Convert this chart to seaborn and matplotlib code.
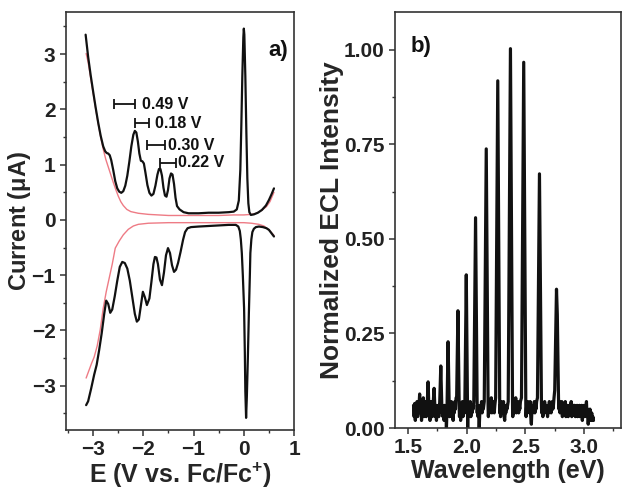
import numpy as np
import pandas as pd
import matplotlib
matplotlib.use("Agg")
import matplotlib.pyplot as plt
from matplotlib.ticker import MultipleLocator, FormatStrFormatter
import seaborn as sns

# ---------------- data: cyclic voltammogram (panel a) ----------------
cv_black_fwd = [
    (-3.15, 3.35), (-3.10, 2.95), (-3.05, 2.62), (-3.00, 2.32), (-2.95, 2.03),
    (-2.90, 1.76), (-2.85, 1.52), (-2.80, 1.33), (-2.76, 1.24), (-2.73, 1.21),
    (-2.70, 1.20), (-2.67, 1.17), (-2.64, 1.08), (-2.60, 0.90), (-2.56, 0.70),
    (-2.52, 0.57), (-2.48, 0.51), (-2.44, 0.49), (-2.40, 0.52), (-2.36, 0.62),
    (-2.32, 0.80), (-2.28, 1.05), (-2.24, 1.33), (-2.20, 1.54), (-2.17, 1.61),
    (-2.14, 1.58), (-2.11, 1.42), (-2.08, 1.20), (-2.05, 1.07), (-2.02, 1.06),
    (-1.99, 1.02), (-1.96, 0.86), (-1.92, 0.63), (-1.88, 0.49), (-1.84, 0.44),
    (-1.80, 0.47), (-1.76, 0.62), (-1.72, 0.82), (-1.69, 0.92), (-1.66, 0.92),
    (-1.63, 0.80), (-1.60, 0.58), (-1.57, 0.44), (-1.54, 0.42), (-1.51, 0.54),
    (-1.48, 0.75), (-1.45, 0.84), (-1.42, 0.82), (-1.39, 0.65), (-1.36, 0.40),
    (-1.33, 0.25), (-1.28, 0.19), (-1.20, 0.14), (-1.10, 0.12), (-0.90, 0.12),
    (-0.70, 0.13), (-0.50, 0.13), (-0.30, 0.14), (-0.20, 0.15), (-0.14, 0.19),
    (-0.10, 0.35), (-0.07, 0.90), (-0.05, 1.70), (-0.03, 2.60), (-0.01, 3.30),
    (0.00, 3.46), (0.01, 3.35), (0.03, 2.60), (0.05, 1.60), (0.07, 0.75),
    (0.09, 0.30), (0.11, 0.14), (0.14, 0.09), (0.20, 0.10), (0.28, 0.13),
    (0.36, 0.18), (0.44, 0.26), (0.50, 0.36), (0.55, 0.46), (0.60, 0.57),
]
cv_black_rev = [
    (0.60, -0.30), (0.55, -0.24), (0.50, -0.18), (0.45, -0.15), (0.38, -0.13),
    (0.30, -0.12), (0.24, -0.13), (0.20, -0.16), (0.17, -0.22), (0.15, -0.35),
    (0.13, -0.60), (0.12, -1.00), (0.10, -1.70), (0.08, -2.50), (0.06, -3.20),
    (0.045, -3.58), (0.03, -3.10), (0.02, -2.40), (0.005, -1.60), (-0.02, -1.00),
    (-0.04, -0.60), (-0.06, -0.35), (-0.08, -0.20), (-0.11, -0.12), (-0.16, -0.09),
    (-0.30, -0.09), (-0.50, -0.10), (-0.70, -0.11), (-0.90, -0.12), (-1.05, -0.13),
    (-1.12, -0.15), (-1.17, -0.22), (-1.21, -0.36), (-1.26, -0.58), (-1.31, -0.78),
    (-1.35, -0.90), (-1.39, -0.94), (-1.43, -0.82), (-1.47, -0.60), (-1.51, -0.51),
    (-1.55, -0.64), (-1.59, -0.95), (-1.63, -1.18), (-1.67, -1.08), (-1.71, -0.80),
    (-1.74, -0.68), (-1.77, -0.67), (-1.80, -0.80), (-1.84, -1.12), (-1.88, -1.42),
    (-1.93, -1.54), (-1.97, -1.40), (-2.01, -1.30), (-2.05, -1.55), (-2.09, -1.80),
    (-2.13, -1.84), (-2.17, -1.70), (-2.22, -1.40), (-2.27, -1.10), (-2.32, -0.88),
    (-2.37, -0.78), (-2.42, -0.76), (-2.47, -0.85), (-2.52, -1.10), (-2.57, -1.38),
    (-2.62, -1.62), (-2.66, -1.68), (-2.70, -1.52), (-2.74, -1.46), (-2.78, -1.70),
    (-2.83, -2.05), (-2.88, -2.35), (-2.93, -2.62), (-2.98, -2.80), (-3.04, -3.05),
    (-3.10, -3.28), (-3.14, -3.35),
]
cv_blank_fwd = [
    (-3.14, 3.01), (-3.10, 2.85), (-3.05, 2.57), (-3.00, 2.29), (-2.95, 2.01),
    (-2.90, 1.74), (-2.85, 1.50), (-2.80, 1.28), (-2.75, 1.10), (-2.70, 0.96),
    (-2.65, 0.82), (-2.60, 0.68), (-2.55, 0.55), (-2.50, 0.43), (-2.45, 0.33),
    (-2.40, 0.26), (-2.33, 0.19), (-2.25, 0.15), (-2.10, 0.12), (-1.90, 0.10),
    (-1.50, 0.08), (-1.00, 0.08), (-0.50, 0.08), (-0.20, 0.09), (0.00, 0.09),
    (0.15, 0.10), (0.25, 0.12), (0.35, 0.17), (0.45, 0.24), (0.52, 0.33),
    (0.60, 0.50),
]
cv_blank_rev = [
    (0.60, -0.28), (0.50, -0.18), (0.40, -0.11), (0.30, -0.08), (0.15, -0.06),
    (0.00, -0.05), (-0.50, -0.05), (-1.00, -0.05), (-1.50, -0.05), (-1.90, -0.06),
    (-2.10, -0.08), (-2.20, -0.11), (-2.30, -0.17), (-2.40, -0.27), (-2.48, -0.38),
    (-2.56, -0.51), (-2.62, -0.80), (-2.68, -1.05), (-2.74, -1.30), (-2.80, -1.60),
    (-2.86, -1.99), (-2.92, -2.28), (-2.98, -2.48), (-3.03, -2.59), (-3.14, -2.86),
]

# peak separations (bracket from, bracket to, y, label)
sep_start = [-2.58, -2.17, -1.93, -1.66]
sep_end = [-2.17, -1.88, -1.57, -1.35]
sep_y = [2.09, 1.75, 1.35, 1.03]
sep_text_x = [-2.02, -1.77, -1.50, -1.31]
sep_labels = ["0.49 V", "0.18 V", "0.30 V", "0.22 V"]

# ---------------- data: ECL spectrum (panel b) ----------------
ecl_points = [
    (1.548, 0.06), (1.553, 0.03), (1.558, 0.065), (1.563, 0.02), (1.568, 0.05),
    (1.573, 0.04), (1.578, 0.07), (1.583, 0.03), (1.588, 0.06), (1.593, 0.05),
    (1.600, 0.09), (1.606, 0.04), (1.611, 0.07), (1.616, 0.02), (1.621, 0.06),
    (1.626, 0.05), (1.631, 0.08), (1.636, 0.03), (1.641, 0.06), (1.646, 0.04),
    (1.651, 0.07), (1.656, 0.03), (1.661, 0.05),
    (1.664, 0.06), (1.672, 0.122), (1.680, 0.04),
    (1.683, 0.07), (1.688, 0.02), (1.693, 0.06), (1.698, 0.04), (1.703, 0.07),
    (1.708, 0.03), (1.713, 0.05),
    (1.716, 0.07), (1.723, 0.105), (1.730, 0.05),
    (1.733, 0.03), (1.738, 0.06), (1.743, 0.02), (1.748, 0.05), (1.753, 0.04),
    (1.758, 0.06), (1.763, 0.03), (1.768, 0.05),
    (1.770, 0.06), (1.780, 0.164), (1.790, 0.04),
    (1.793, 0.06), (1.798, 0.03), (1.803, 0.05), (1.808, 0.02), (1.813, 0.06),
    (1.818, 0.04), (1.823, 0.05), (1.828, 0.00), (1.833, 0.05),
    (1.834, 0.07), (1.842, 0.228), (1.852, 0.05),
    (1.855, 0.03), (1.860, 0.06), (1.865, 0.04), (1.870, 0.07), (1.875, 0.03),
    (1.880, 0.05), (1.885, 0.02), (1.890, 0.06), (1.895, 0.04), (1.900, 0.07),
    (1.905, 0.05), (1.910, 0.08),
    (1.915, 0.08), (1.926, 0.31), (1.937, 0.05),
    (1.939, 0.03), (1.944, 0.06), (1.949, 0.02), (1.954, 0.05), (1.959, 0.04),
    (1.964, 0.07), (1.969, 0.03), (1.974, 0.05), (1.979, 0.06), (1.984, 0.04),
    (1.985, 0.07), (1.997, 0.405), (2.009, 0.00),
    (2.011, 0.05), (2.016, 0.03), (2.021, 0.06), (2.026, 0.04), (2.031, 0.07),
    (2.036, 0.03), (2.041, 0.05), (2.046, 0.04), (2.051, 0.06), (2.056, 0.05),
    (2.061, 0.07), (2.076, 0.556), (2.090, 0.04),
    (2.092, 0.06), (2.097, 0.03), (2.102, 0.05), (2.107, 0.00), (2.112, 0.04),
    (2.117, 0.06), (2.122, 0.05), (2.127, 0.07), (2.132, 0.04), (2.137, 0.06),
    (2.142, 0.05),
    (2.150, 0.07), (2.167, 0.738), (2.183, 0.05),
    (2.185, 0.03), (2.190, 0.06), (2.195, 0.04), (2.200, 0.07), (2.205, 0.05),
    (2.210, 0.08), (2.215, 0.04), (2.220, 0.06), (2.225, 0.05), (2.230, 0.07),
    (2.235, 0.04), (2.240, 0.06),
    (2.247, 0.08), (2.265, 0.918), (2.282, 0.04),
    (2.284, 0.06), (2.289, 0.03), (2.294, 0.07), (2.299, 0.04), (2.304, 0.06),
    (2.309, 0.05), (2.314, 0.07), (2.319, 0.03), (2.324, 0.02), (2.329, 0.05),
    (2.334, 0.04), (2.339, 0.06), (2.344, 0.05),
    (2.354, 0.07), (2.373, 1.003), (2.391, 0.05),
    (2.393, 0.03), (2.398, 0.06), (2.403, 0.04), (2.408, 0.07), (2.413, 0.05),
    (2.418, 0.08), (2.423, 0.04), (2.428, 0.06), (2.433, 0.05), (2.438, 0.07),
    (2.443, 0.04), (2.448, 0.06), (2.453, 0.05), (2.458, 0.07),
    (2.467, 0.08), (2.486, 0.967), (2.504, 0.05),
    (2.506, 0.03), (2.511, 0.06), (2.516, 0.04), (2.521, 0.07), (2.526, 0.05),
    (2.531, 0.06), (2.536, 0.04), (2.541, 0.07), (2.546, 0.03), (2.551, 0.01),
    (2.556, 0.05), (2.561, 0.04), (2.566, 0.06), (2.571, 0.05), (2.576, 0.07),
    (2.581, 0.04), (2.586, 0.06), (2.591, 0.05), (2.596, 0.07),
    (2.603, 0.08), (2.620, 0.672), (2.637, 0.06),
    (2.639, 0.04), (2.644, 0.06), (2.649, 0.03), (2.654, 0.05), (2.659, 0.04),
    (2.664, 0.07), (2.669, 0.05), (2.674, 0.06), (2.679, 0.04), (2.684, 0.05),
    (2.689, 0.03), (2.694, 0.06), (2.699, 0.04), (2.704, 0.07), (2.709, 0.05),
    (2.714, 0.06), (2.719, 0.04), (2.724, 0.05), (2.729, 0.07), (2.734, 0.05),
    (2.739, 0.06), (2.744, 0.08),
    (2.750, 0.10), (2.765, 0.367), (2.772, 0.30), (2.782, 0.08),
    (2.785, 0.05), (2.790, 0.07), (2.795, 0.04), (2.800, 0.06), (2.805, 0.05),
    (2.810, 0.07), (2.815, 0.03), (2.820, 0.05), (2.825, 0.04), (2.830, 0.06),
    (2.835, 0.05), (2.840, 0.07), (2.845, 0.03), (2.850, 0.05), (2.855, 0.04),
    (2.860, 0.06), (2.865, 0.03), (2.870, 0.05), (2.875, 0.04), (2.880, 0.06),
    (2.885, 0.05), (2.890, 0.07), (2.895, 0.03), (2.900, 0.05), (2.905, 0.04),
    (2.910, 0.06), (2.915, 0.04), (2.920, 0.06), (2.925, 0.03), (2.930, 0.05),
    (2.935, 0.04), (2.940, 0.06), (2.945, 0.03), (2.950, 0.05), (2.955, 0.04),
    (2.960, 0.06), (2.965, 0.03), (2.970, 0.05), (2.975, 0.04), (2.980, 0.06),
    (2.985, 0.02), (2.990, 0.05), (2.995, 0.04), (3.000, 0.06), (3.005, 0.03),
    (3.010, 0.05), (3.015, 0.04), (3.020, 0.07), (3.025, 0.03), (3.030, 0.05),
    (3.035, 0.01), (3.040, 0.04), (3.045, 0.02), (3.050, 0.05), (3.055, 0.03),
    (3.060, 0.02), (3.065, 0.04), (3.070, 0.02), (3.075, 0.03), (3.080, 0.02),
]

# ---------------- style ----------------
sns.set_theme(style="ticks")
plt.rcParams["font.family"] = ["Liberation Sans", "DejaVu Sans"]
plt.rcParams["font.weight"] = "bold"
plt.rcParams["axes.labelweight"] = "bold"
plt.rcParams["mathtext.fontset"] = "custom"
plt.rcParams["mathtext.bf"] = "Liberation Sans:bold"
plt.rcParams["mathtext.rm"] = "Liberation Sans:bold"
plt.rcParams["mathtext.default"] = "bf"

fig = plt.figure(figsize=(6.23, 4.90), dpi=100)
ax1 = fig.add_axes([0.106, 0.1224, 0.366, 0.8531])
ax2 = fig.add_axes([0.634, 0.1265, 0.362, 0.849])

BLACK = "#111111"
PINK = "#ee7b85"

def to_df(pts):
    return pd.DataFrame(pts, columns=["x", "y"])

# panel a
sns.lineplot(data=to_df(cv_blank_fwd), x="x", y="y", sort=False, estimator=None,
             color=PINK, lw=1.0, ax=ax1)
sns.lineplot(data=to_df(cv_blank_rev), x="x", y="y", sort=False, estimator=None,
             color=PINK, lw=1.0, ax=ax1)
sns.lineplot(data=to_df(cv_black_fwd), x="x", y="y", sort=False, estimator=None,
             color=BLACK, lw=1.6, ax=ax1)
sns.lineplot(data=to_df(cv_black_rev), x="x", y="y", sort=False, estimator=None,
             color=BLACK, lw=1.6, ax=ax1)

for xs, xe, yy, tx, lab in zip(sep_start, sep_end, sep_y, sep_text_x, sep_labels):
    ax1.errorbar([(xs + xe) / 2], [yy], xerr=[(xe - xs) / 2], fmt="none",
                 ecolor=BLACK, elinewidth=1.3, capsize=3.5, capthick=1.3)
    ax1.text(tx, yy, lab, fontsize=11.5, fontweight="bold", va="center",
             ha="left", color=BLACK)

ax1.text(0.69, 3.06, "a)", fontsize=16, fontweight="bold", ha="center",
         va="center", color=BLACK)
ax1.set_xlim(-3.54, 1.0)
ax1.set_ylim(-3.80, 3.76)
ax1.xaxis.set_major_locator(MultipleLocator(1))
ax1.xaxis.set_minor_locator(MultipleLocator(0.5))
ax1.yaxis.set_major_locator(MultipleLocator(1))
ax1.yaxis.set_minor_locator(MultipleLocator(0.5))
ax1.set_xlabel("E (V vs. Fc/Fc$^{+}$)", fontsize=18, fontweight="bold", labelpad=1)
ax1.set_ylabel("Current ($\\mathbf{\\mu}$A)", fontsize=17, fontweight="bold", labelpad=-1)

# panel b
sns.lineplot(data=to_df(ecl_points), x="x", y="y", sort=False, estimator=None,
             color=BLACK, lw=2.3, ax=ax2)
ax2.text(1.61, 1.01, "b)", fontsize=16, fontweight="bold", ha="center",
         va="center", color=BLACK)
ax2.set_xlim(1.39, 3.31)
ax2.set_ylim(0.0, 1.10)
ax2.xaxis.set_major_locator(MultipleLocator(0.5))
ax2.xaxis.set_minor_locator(MultipleLocator(0.25))
ax2.yaxis.set_major_locator(MultipleLocator(0.25))
ax2.yaxis.set_minor_locator(MultipleLocator(0.125))
ax2.xaxis.set_major_formatter(FormatStrFormatter("%.1f"))
ax2.yaxis.set_major_formatter(FormatStrFormatter("%.2f"))
ax2.set_xlabel("Wavelength (eV)", fontsize=18, fontweight="bold", labelpad=1)
ax2.set_ylabel("Normalized ECL Intensity", fontsize=19, fontweight="bold", labelpad=0)

for ax in (ax1, ax2):
    for sp in ax.spines.values():
        sp.set_visible(True)
        sp.set_linewidth(1.2)
        sp.set_color("#333333")
    ax.tick_params(axis="both", which="major", direction="out", length=4.5,
                   width=1.1, color="#333333", labelsize=15, pad=3)
    ax.tick_params(axis="both", which="minor", direction="out", length=2.5,
                   width=1.0, color="#333333")
    for lab in ax.get_xticklabels() + ax.get_yticklabels():
        lab.set_fontweight("bold")
        lab.set_color("#222222")

fig.savefig("out.png", dpi=100)
